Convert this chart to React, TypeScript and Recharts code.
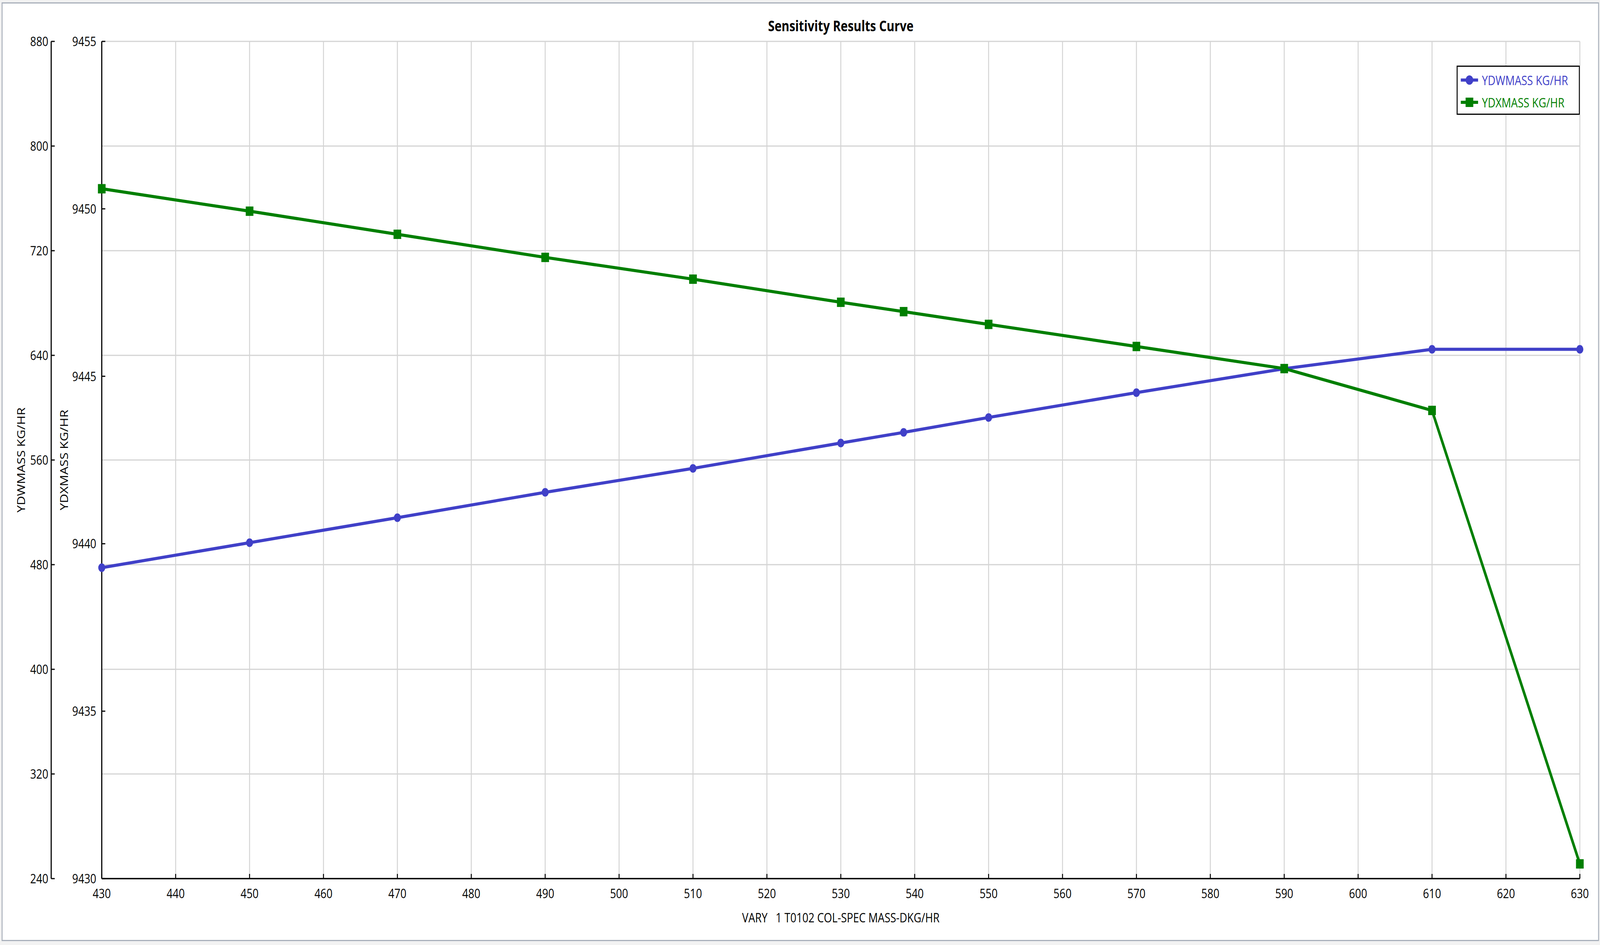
import React from "react";
import { LineChart, Line, XAxis, YAxis, CartesianGrid, Legend } from "recharts";

const FONT = '"Open Sans", "Noto Sans", sans-serif';
const BLUE = "#4040c8";
const GREEN = "#007f00";
const W = 5000;
const H = 2420;

// sensitivity points (varied column spec, kg/hr)
const varyValues = [430, 450, 470, 490, 510, 530, 538.5, 550, 570, 590, 610, 630];
const ydwMass = [477.7, 496.8, 515.9, 535.3, 553.6, 573.0, 581.1, 592.5, 611.5, 629.8, 644.6, 644.6];
const ydxMass = [9450.6, 9449.93, 9449.24, 9448.55, 9447.9, 9447.21, 9446.93, 9446.55, 9445.89, 9445.23, 9443.98, 9430.44];

const xTicks = [430, 440, 450, 460, 470, 480, 490, 500, 510, 520, 530, 540, 550, 560, 570, 580, 590, 600, 610, 620, 630];
const ydwTicks = [240, 320, 400, 480, 560, 640, 720, 800, 880];
const ydxTicks = [9430, 9435, 9440, 9445, 9450, 9455];

const seriesNames = ["YDWMASS KG/HR", "YDXMASS KG/HR"];

const data = varyValues.map((x, i) => ({ x, ydw: ydwMass[i], ydx: ydxMass[i] }));

// axis ids: recharts stacks left axes in id order, first one next to the plot
const INNER = "a";
const OUTER = "b";

function yTick(gap: number) {
  return (props: any) => {
    const { x, y, payload } = props;
    return (
      <g>
        <line x1={x} y1={y} x2={x + 11} y2={y} stroke="#000" strokeWidth={3} />
        <text x={x - gap} y={y} dy={12} textAnchor="end" fontSize={33} fontFamily={FONT} fill="#000">
          {payload.value}
        </text>
      </g>
    );
  };
}

function XTick(props: any) {
  const { x, y, payload } = props;
  return (
    <g>
      <line x1={x} y1={y} x2={x} y2={y - 12} stroke="#000" strokeWidth={3} />
      <text x={x} y={y} dy={50} textAnchor="middle" fontSize={33} fontFamily={FONT} fill="#000">
        {payload.value}
      </text>
    </g>
  );
}

function yTitle(text: string, fromLine: number) {
  return (props: any) => {
    const vb = props.viewBox;
    const cx = vb.x + vb.width - fromLine;
    const cy = vb.y + vb.height / 2;
    return (
      <text
        x={cx}
        y={cy}
        transform={`rotate(-90, ${cx}, ${cy})`}
        textAnchor="middle"
        dominantBaseline="central"
        fontSize={33}
        fontFamily={FONT}
        fill="#000"
      >
        {text}
      </text>
    );
  };
}

function xTitle(props: any) {
  const vb = props.viewBox;
  return (
    <text
      x={vb.x + vb.width / 2}
      y={2362}
      textAnchor="middle"
      fontSize={33}
      fontFamily={FONT}
      fill="#000"
      style={{ whiteSpace: "pre" }}
    >
      {"VARY   1 T0102 COL-SPEC MASS-DKG/HR"}
    </text>
  );
}

function SquareDot(props: any) {
  const { cx, cy, index } = props;
  return <rect key={`sq-${index}`} x={cx - 12} y={cy - 12} width={24} height={24} fill={GREEN} />;
}

function LegendBox() {
  return (
    <svg width={385} height={126} style={{ display: "block" }}>
      <rect x={1.5} y={1.5} width={382} height={123} fill="#fff" stroke="#000" strokeWidth={3} />
      <line x1={13} y1={37} x2={67} y2={37} stroke={BLUE} strokeWidth={8} />
      <circle cx={40} cy={37} r={12} fill={BLUE} />
      <text x={79} y={37} dominantBaseline="central" fontSize={33} fontFamily={FONT} fill={BLUE}>
        {seriesNames[0]}
      </text>
      <line x1={13} y1={94} x2={67} y2={94} stroke={GREEN} strokeWidth={8} />
      <rect x={28} y={82} width={24} height={24} fill={GREEN} />
      <text x={79} y={94} dominantBaseline="central" fontSize={33} fontFamily={FONT} fill={GREEN}>
        {seriesNames[1]}
      </text>
    </svg>
  );
}

export default function App() {
  // fit the fixed 5000x2420 drawing into whatever the window really is
  const sx = typeof window !== "undefined" && window.innerWidth ? window.innerWidth / W : 1;
  const sy = typeof window !== "undefined" && window.innerHeight ? window.innerHeight / H : 1;
  return (
    <div style={{ position: "fixed", left: 0, top: 0, width: "100vw", height: "100vh", overflow: "hidden" }}>
      <div
        style={{
          position: "absolute",
          left: 0,
          top: 0,
          width: W,
          height: H,
          background: "#f2f2f2",
          transform: `scale(${sx}, ${sy})`,
          transformOrigin: "0 0",
        }}
      >
        <div
          style={{
            position: "absolute",
            left: 5,
            top: 6,
            width: 4992,
            height: 2404,
            boxSizing: "border-box",
            border: "3px solid #a9b0bb",
            background: "#fff",
          }}
        />
        <div
          style={{
            position: "absolute",
            left: 318,
            width: 4619,
            top: 40,
            height: 52,
            lineHeight: "52px",
            textAlign: "center",
            fontFamily: FONT,
            fontWeight: 700,
            fontSize: 37,
            color: "#000",
          }}
        >
          Sensitivity Results Curve
        </div>
        <div style={{ position: "absolute", left: 0, top: 0 }}>
          <LineChart width={W} height={H} data={data} margin={{ top: 106, right: 63, bottom: 110, left: 0 }}>
            <CartesianGrid yAxisId={OUTER} stroke="#d4d4d4" strokeWidth={3} />
            <XAxis
              dataKey="x"
              type="number"
              domain={[430, 630]}
              ticks={xTicks}
              height={60}
              tickSize={0}
              tickMargin={0}
              tick={XTick}
              axisLine={{ stroke: "#000", strokeWidth: 3.5 }}
              tickLine={false}
              label={xTitle}
            />
            <YAxis
              yAxisId={INNER}
              orientation="left"
              type="number"
              domain={[9430, 9455]}
              ticks={ydxTicks}
              width={158}
              tickSize={0}
              tickMargin={0}
              tick={yTick(17)}
              axisLine={{ stroke: "#000", strokeWidth: 3.5 }}
              tickLine={false}
              label={yTitle(seriesNames[1], 118)}
            />
            <YAxis
              yAxisId={OUTER}
              orientation="left"
              type="number"
              domain={[240, 880]}
              ticks={ydwTicks}
              width={160}
              tickSize={0}
              tickMargin={0}
              tick={yTick(9)}
              axisLine={{ stroke: "#000", strokeWidth: 3.5 }}
              tickLine={false}
              label={yTitle(seriesNames[0], 94)}
            />
            <Legend
              layout="vertical"
              align="center"
              verticalAlign="middle"
              content={() => <LegendBox />}
              wrapperStyle={{ position: "absolute", top: 168, left: 4552, width: 385, height: 126 }}
            />
            <Line
              yAxisId={OUTER}
              dataKey="ydw"
              name={seriesNames[0]}
              stroke={BLUE}
              strokeWidth={8}
              dot={{ r: 11, fill: BLUE, stroke: "none" }}
              isAnimationActive={false}
            />
            <Line
              yAxisId={INNER}
              dataKey="ydx"
              name={seriesNames[1]}
              stroke={GREEN}
              strokeWidth={8}
              dot={SquareDot}
              isAnimationActive={false}
            />
          </LineChart>
        </div>
      </div>
    </div>
  );
}
